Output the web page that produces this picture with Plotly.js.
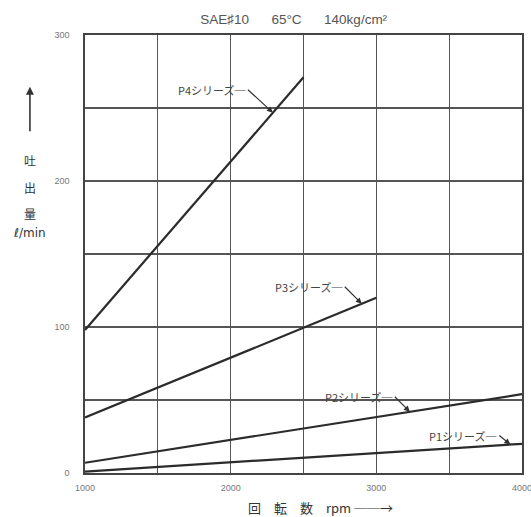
<!DOCTYPE html>
<html>
<head>
<meta charset="utf-8">
<script src="https://cdn.plot.ly/plotly-3.0.1.min.js"></script>
<style>html,body{margin:0;padding:0;background:#fff;}#chart{width:531px;height:517px;}</style>
</head>
<body>
<div id="chart"></div>
<script>
// Data (rpm vs discharge l/min)
const p4Rpm = [1000, 2500];
const p4Flow = [98, 271];
const p3Rpm = [1000, 3000];
const p3Flow = [38, 120];
const p2Rpm = [1000, 4000];
const p2Flow = [7, 54];
const p1Rpm = [1000, 4000];
const p1Flow = [1, 20];

const seriesNames = ["P4シリーズ", "P3シリーズ", "P2シリーズ", "P1シリーズ"];
// rpm at which each label's leader arrow touches its line
const labelRpm = [2290, 2900, 3230, 3920];

const xTickVals = [1000, 1500, 2000, 2500, 3000, 3500, 4000];
const xTickText = ["1000", "", "2000", "", "3000", "", "4000"];
const yTickVals = [0, 50, 100, 150, 200, 250, 300];
const yTickText = ["0", "", "100", "", "200", "", "300"];

const gap = "\u00A0\u00A0\u00A0\u00A0\u00A0\u00A0";
const titleText = "SAE♯10" + gap + "65°C" + gap + "140kg/cm²";

const rpmSets = [p4Rpm, p3Rpm, p2Rpm, p1Rpm];
const flowSets = [p4Flow, p3Flow, p2Flow, p1Flow];

function interp(xs, ys, x) {
  for (let i = 0; i < xs.length - 1; i++) {
    if (x >= xs[i] && x <= xs[i + 1]) {
      const t = (x - xs[i]) / (xs[i + 1] - xs[i]);
      return ys[i] + t * (ys[i + 1] - ys[i]);
    }
  }
  return ys[ys.length - 1];
}

const lineColor = "#2b2b2b";
const traces = rpmSets.map((xs, i) => ({
  x: xs, y: flowSets[i], mode: "lines", type: "scatter",
  name: seriesNames[i], line: {color: lineColor, width: 2.2},
  hoverinfo: "skip"
}));

const offsets = [[-25, -23], [-17, -17], [-15, -15], [-11, -9]];
const jp = "'Noto Sans CJK JP', 'DejaVu Sans', sans-serif";
const annotations = seriesNames.map((n, i) => ({
  x: labelRpm[i], y: interp(rpmSets[i], flowSets[i], labelRpm[i]),
  xref: "x", yref: "y",
  text: n + "─", showarrow: true, arrowhead: 2, arrowsize: 1, arrowwidth: 1.2,
  arrowcolor: "#333", ax: offsets[i][0], ay: offsets[i][1],
  xanchor: "right", yanchor: "middle",
  font: {family: jp, size: 11, color: "#444"}
}));

// y-axis label (vertical stack with arrow)
annotations.push({
  xref: "paper", yref: "paper", x: -0.126, y: 0.882,
  text: "", showarrow: true, arrowhead: 2, arrowsize: 1, arrowwidth: 1.6,
  arrowcolor: "#333", ax: 0, ay: 46
});
const yLabelChars = ["吐", "出", "量"];
const yLabelPix = [160, 187, 213];
yLabelChars.forEach((c, i) => annotations.push({
  xref: "paper", yref: "paper", x: -0.126, y: (473 - yLabelPix[i]) / 438,
  xanchor: "center", yanchor: "middle",
  text: c, showarrow: false, font: {family: jp, size: 12, color: "#333"}
}));
annotations.push({
  xref: "paper", yref: "paper", x: -0.126, y: (473 - 233) / 438,
  xanchor: "center", yanchor: "middle",
  text: "ℓ/min", showarrow: false, font: {family: "'DejaVu Sans', sans-serif", size: 12, color: "#333"}
});
// x-axis label
annotations.push({
  xref: "paper", yref: "paper", x: 0.54, y: (473 - 507) / 438,
  xanchor: "center", yanchor: "middle",
  text: "回　転　数　rpm ──→", showarrow: false,
  font: {family: jp, size: 13, color: "#333"}
});

const layout = {
  width: 531, height: 517,
  margin: {l: 85, r: 9, t: 35, b: 44},
  paper_bgcolor: "#fff", plot_bgcolor: "#fff",
  showlegend: false,
  title: {text: titleText, x: 0.553, xanchor: "center", y: 0.962, yanchor: "middle",
          font: {family: "'Liberation Sans', Arial, sans-serif", size: 13.5, color: "#555"}},
  xaxis: {
    range: [1000, 4000.01], tickvals: xTickVals, ticktext: xTickText,
    showgrid: true, gridcolor: "#555", gridwidth: 1.3, zeroline: false,
    showline: true, linecolor: "#444", linewidth: 1.6, mirror: true,
    ticks: "", ticklabelstandoff: 6, ticklabeloverflow: "allow",
    tickfont: {family: "'Liberation Sans', Arial, sans-serif", size: 9, color: "#777"}
  },
  yaxis: {
    range: [0, 300], tickvals: yTickVals, ticktext: yTickText,
    showgrid: true, gridcolor: "#555", gridwidth: 1.3, zeroline: false,
    showline: true, linecolor: "#444", linewidth: 1.6, mirror: true,
    ticks: "", ticklabelstandoff: 12,
    tickfont: {family: "'Liberation Sans', Arial, sans-serif", size: 9, color: "#777"}
  },
  annotations: annotations
};

Plotly.newPlot("chart", traces, layout, {displayModeBar: false, staticPlot: true});
</script>
</body>
</html>
